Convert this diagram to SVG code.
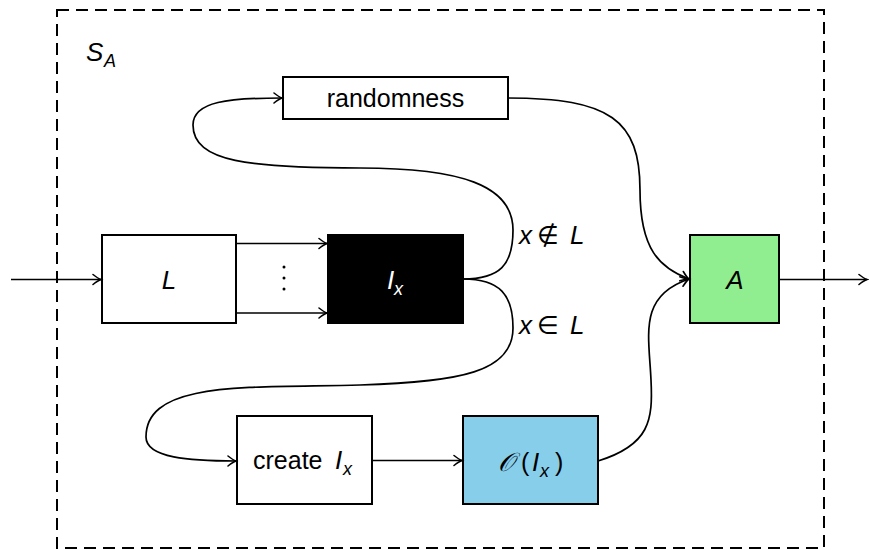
<svg xmlns="http://www.w3.org/2000/svg" width="869" height="550" viewBox="0 0 869 550">
<defs>
<marker id="arr" markerUnits="userSpaceOnUse" markerWidth="14" markerHeight="14" viewBox="-10 -7 12 14" refX="0" refY="0" orient="auto">
<path d="M-8,-5 Q-3,-1 0,0 Q-3,1 -8,5" fill="none" stroke="#000" stroke-width="1.6" stroke-linecap="round"/>
</marker>
</defs>
<style>
.box{stroke:#000;stroke-width:2}
.t{font-family:"Liberation Sans","DejaVu Sans",sans-serif;font-size:25px;fill:#000}
.m{font-family:"Liberation Sans","DejaVu Sans",sans-serif;font-style:italic;font-size:26px;fill:#000}
.s{font-family:"Liberation Sans","DejaVu Sans",sans-serif;font-style:italic;font-size:18px;fill:#000}
.c{fill:none;stroke:#000;stroke-width:1.7}
</style>
<rect width="869" height="550" fill="#fff"/>
<g id="frame">
<rect x="57" y="10" width="767" height="538" fill="none" stroke="#000" stroke-width="2" stroke-dasharray="12,7"/>
<text x="86" y="61" class="m">S</text><text x="104" y="67" class="s">A</text>
</g>
<g id="randomness">
<rect class="box" x="283" y="77" width="225" height="42" fill="#fff"/>
<text x="395.5" y="107" class="t" text-anchor="middle">randomness</text>
</g>
<g id="L">
<rect class="box" x="102" y="235" width="134" height="88" fill="#fff"/>
<text x="169" y="289" class="m" text-anchor="middle">L</text>
</g>
<g id="dots">
<circle cx="284" cy="267" r="1.5" fill="#000"/>
<circle cx="284" cy="278" r="1.5" fill="#000"/>
<circle cx="284" cy="289" r="1.5" fill="#000"/>
</g>
<g id="Ix">
<rect class="box" x="328" y="235" width="135" height="88" fill="#000"/>
<text x="387" y="289" class="m" style="fill:#fff">I</text><text x="394" y="295" class="s" style="fill:#fff">x</text>
</g>
<g id="A">
<rect class="box" x="690" y="235" width="89" height="88" fill="#90ee90"/>
<text x="735" y="289" class="m" text-anchor="middle">A</text>
</g>
<g id="create">
<rect class="box" x="237" y="416" width="135" height="88" fill="#fff"/>
<text x="253" y="469" class="t">create</text><text x="335" y="469" class="m">I</text><text x="343" y="475" class="s">x</text>
</g>
<g id="oracle">
<rect class="box" x="463" y="416" width="135" height="88" fill="#87ceeb"/>
<text x="498" y="471" class="m">𝒪</text><text x="521" y="471" class="t">(</text><text x="532" y="471" class="m">I</text><text x="540" y="477" class="s">x</text><text x="555" y="471" class="t">)</text>
</g>
<g id="labels">
<text x="519" y="244" class="m">x</text><text x="537" y="244" class="t">∉</text><text x="570" y="244" class="m">L</text>
<text x="519" y="334" class="m">x</text><text x="537" y="334" class="t">∈</text><text x="570" y="334" class="m">L</text>
</g>
<g id="connectors">
<path class="c" d="M11,279.5 L101,279.5" marker-end="url(#arr)"/>
<path class="c" d="M779,279.5 L867,279.5" marker-end="url(#arr)"/>
<path class="c" d="M236,243.5 L327,243.5" marker-end="url(#arr)"/>
<path class="c" d="M236,313 L327,313" marker-end="url(#arr)"/>
<path class="c" d="M372,460.5 L462,460.5" marker-end="url(#arr)"/>
<path class="c" d="M463,279 C500,279 513,265 513,230 C513,185 460,168 360,168 C250,168 193,162 193,125 C193,101 230,98 282,98" marker-end="url(#arr)"/>
<path class="c" d="M463,279 C500,279 513,295 513,328 C513,372 460,382 360,385 C250,388 146,380 146,437 C146,458 190,461 236,461" marker-end="url(#arr)"/>
<path class="c" d="M508,98 C610,98 640,120 640,190 C640,250 660,268 689,279" marker-end="url(#arr)"/>
<path class="c" d="M598,461 C650,445 653,420 651,380 C649,335 638,296 689,279" marker-end="url(#arr)"/>
</g>
</svg>
